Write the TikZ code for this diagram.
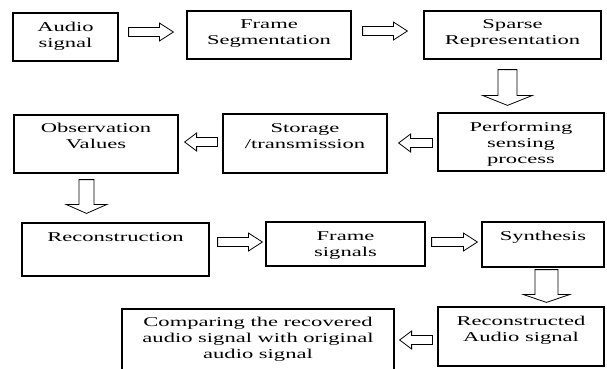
\documentclass[tikz,border=0pt]{standalone}
\usepackage{fontspec}
\setmainfont{Liberation Serif}[FakeStretch=1.67]
\usetikzlibrary{positioning,calc}

\tikzset{
  hollow/.style n args={3}{to path={
    ($(\tikztostart)!#1!90:(\tikztotarget)$)
    -- ($($(\tikztotarget)!#3!(\tikztostart)$)!#1!90:(\tikztotarget)$)
    -- ($($(\tikztotarget)!#3!(\tikztostart)$)!#2!90:(\tikztotarget)$)
    -- (\tikztotarget)
    -- ($($(\tikztotarget)!#3!(\tikztostart)$)!#2!-90:(\tikztotarget)$)
    -- ($($(\tikztotarget)!#3!(\tikztostart)$)!#1!-90:(\tikztotarget)$)
    -- ($(\tikztostart)!#1!-90:(\tikztotarget)$)
    -- cycle}},
  harr/.style={hollow={4.5pt}{9pt}{14pt}},
  larr/.style={hollow={4.5pt}{9pt}{12pt}},
}

\begin{document}
\begin{tikzpicture}[x=1pt,y=-1pt,
    box/.style={draw,rectangle,line width=1.2pt,inner sep=0pt},
    txt/.style={inner sep=0pt,align=center,font=\fontsize{13.5}{16}\selectfont}]

    \path[use as bounding box,fill=white] (0,0) rectangle (607,368);

    % boxes
    \node[box,minimum width=105,minimum height=48] (audio) at (65.5,37) {};
    \node[box,minimum width=164,minimum height=48] (frameseg) at (269,35) {};
    \node[box,minimum width=177,minimum height=48] (sparse) at (512.5,35) {};
    \node[box,minimum width=164,minimum height=58] (observ) at (96,144) {};
    \node[box,minimum width=164,minimum height=59] (storage) at (305,143.5) {};
    \node[box,minimum width=166,minimum height=58] (perform) at (521,142) {};
    \node[box,minimum width=187,minimum height=53] (recon) at (115.5,249.5) {};
    \node[box,minimum width=159,minimum height=44] (framesig) at (345.5,244) {};
    \node[box,minimum width=122,minimum height=45] (synth) at (543,244.5) {};
    \node[box,minimum width=166,minimum height=59] (reconaud) at (521,336.5) {};
    \node[box,minimum width=272,minimum height=63] (compare) at (258,340.5) {};

    % texts
    \node[txt,below=9.5pt of audio.north] (audiotxt) {Audio\\signal};
    \node[txt,below=9.5pt of frameseg.north] (framesegtxt) {Frame\\Segmentation};
    \node[txt,below=8.5pt of sparse.north] (sparsetxt) {Sparse\\Representation};
    \node[txt,below=9pt of observ.north] (observtxt) {Observation\\Values};
    \node[txt,below=9.5pt of storage.north] (storagetxt) {Storage\\/transmission};
    \node[txt,below=9.5pt of perform.north] (performtxt) {Performing\\sensing\\process};
    \node[txt,below=9.5pt of recon.north] (recontxt) {Reconstruction};
    \node[txt,below=10pt of framesig.north] (framesigtxt) {Frame\\signals};
    \node[txt,below=9.5pt of synth.north] (synthtxt) {Synthesis};
    \node[txt,below=10pt of reconaud.north] (reconaudtxt) {Reconstructed\\Audio signal};
    \node[txt,below=9pt of compare.north] (comparetxt) {Comparing the recovered\\audio signal with original\\audio signal};

    % hollow arrows
    \path[draw,line width=0.8pt]
        ($(audio.east)+(10,-5)$) to[harr] ($(frameseg.west)+(-13,-3)$)
        ($(frameseg.east)+(11,-4)$) to[harr] ($(sparse.west)+(-16,-4)$)
        ($(sparse.south)+(-5,10)$) to[hollow={9.5pt}{25pt}{10pt}] ($(perform.north)+(-13.5,-7)$)
        ($(perform.west)+(-5,1)$) to[larr] ($(storage.east)+(11,-0.5)$)
        ($(storage.west)+(-5,-1.5)$) to[larr] ($(observ.east)+(6,-2)$)
        ($(observ.south)+(-9.5,6)$) to[hollow={7.5pt}{20.5pt}{9pt}] ($(recon.north)+(-29,-9)$)
        ($(recon.east)+(8,-7.5)$) to[harr] ($(framesig.west)+(-3,-2)$)
        ($(framesig.east)+(6,-2)$) to[harr] ($(synth.west)+(-4,-2.5)$)
        ($(synth.south)+(3.5,2)$) to[hollow={11.5pt}{23.5pt}{8pt}] ($(reconaud.north)+(25.5,-4)$)
        ($(reconaud.west)+(-5,3.5)$) to[larr] ($(compare.east)+(5,-0.5)$)
    ;
\end{tikzpicture}
\end{document}
